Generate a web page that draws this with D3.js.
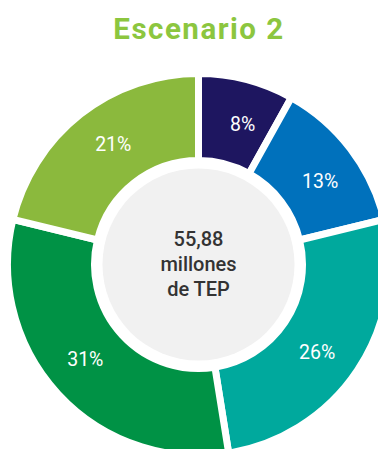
<!DOCTYPE html>
<html>
<head>
<meta charset="utf-8">
<script src="https://cdn.jsdelivr.net/npm/d3@7"></script>
<style>
  html, body { margin: 0; padding: 0; background: #ffffff; }
  svg { display: block; }
</style>
</head>
<body>
<svg id="chart" width="378" height="449"></svg>
<script>
// Energy mix shares, clockwise from 12 o'clock
const shares = [8, 13, 26, 31, 21];
const shareLabels = ["8%", "13%", "26%", "31%", "21%"];
const sliceColors = ["#1e1660", "#0071bc", "#00a99d", "#009245", "#8bb93d"];
const title = "Escenario 2";
const centerLines = ["55,88", "millones", "de TEP"];

const svg = d3.select("#chart");
const cx = 198.5, cy = 264.5;
const outerR = 191, innerR = 104, discR = 96;

// Title
svg.append("text")
  .attr("x", 199)
  .attr("y", 38.5)
  .attr("text-anchor", "middle")
  .attr("font-family", "Roboto, sans-serif")
  .attr("font-weight", 700)
  .attr("font-size", 29.5)
  .attr("letter-spacing", 1.5)
  .attr("fill", "#8cc63f")
  .text(title);

const g = svg.append("g").attr("transform", `translate(${cx},${cy})`);

const pie = d3.pie().sort(null).value(d => d)(shares);
const arc = d3.arc().innerRadius(innerR).outerRadius(outerR);

g.selectAll("path.slice")
  .data(pie)
  .join("path")
  .attr("class", "slice")
  .attr("d", arc)
  .attr("fill", (d, i) => sliceColors[i])
  .attr("stroke", "#ffffff")
  .attr("stroke-width", 7)
  .attr("stroke-linejoin", "miter");

// Percentage labels, set a little clockwise of each slice's centroid
const labelTurn = 0.05;
g.selectAll("text.pct")
  .data(pie)
  .join("text")
  .attr("class", "pct")
  .attr("transform", d => {
    const p = arc.centroid({ ...d, startAngle: d.startAngle + labelTurn, endAngle: d.endAngle + labelTurn });
    return `translate(${p})`;
  })
  .attr("text-anchor", "middle")
  .attr("dy", "0.35em")
  .attr("font-family", "Roboto, sans-serif")
  .attr("font-weight", 400)
  .attr("font-size", 19.5)
  .attr("fill", "#ffffff")
  .text((d, i) => shareLabels[i]);

// Central disc with total
g.append("circle")
  .attr("r", discR)
  .attr("fill", "#f1f1f1");

g.selectAll("text.total")
  .data(centerLines)
  .join("text")
  .attr("class", "total")
  .attr("x", 0)
  .attr("y", (d, i) => -19 + i * 25)
  .attr("text-anchor", "middle")
  .attr("font-family", "Roboto, sans-serif")
  .attr("font-weight", 500)
  .attr("font-size", 20)
  .attr("fill", "#333333")
  .text(d => d);
</script>
</body>
</html>
